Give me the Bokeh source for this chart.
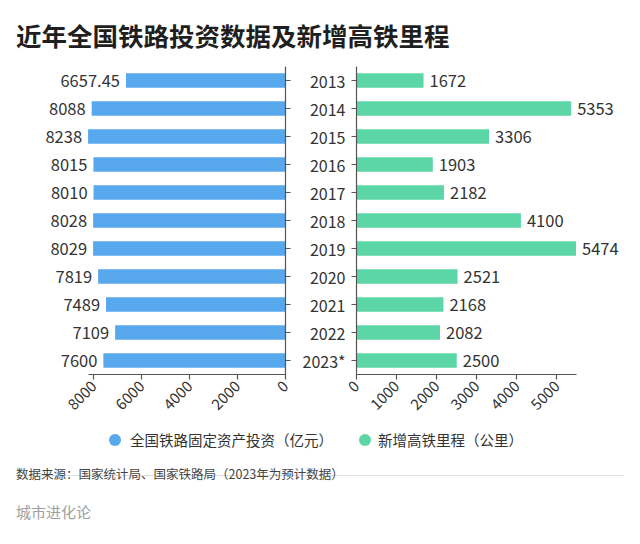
from math import pi
from bokeh.plotting import figure
from bokeh.layouts import column, row
from bokeh.models import (ColumnDataSource, Range1d, FactorRange, FixedTicker, Div,
                          CustomLabelingPolicy)
from bokeh.embed import file_html
from bokeh.resources import INLINE
from bokeh.core.properties import value

# ---------------- data ----------------
years = ["2013", "2014", "2015", "2016", "2017", "2018", "2019", "2020", "2021", "2022", "2023*"]
investment = [6657.45, 8088, 8238, 8015, 8010, 8028, 8029, 7819, 7489, 7109, 7600]   # 亿元
mileage = [1672, 5353, 3306, 1903, 2182, 4100, 5474, 2521, 2168, 2082, 2500]          # 公里
investment_ticks = [0, 2000, 4000, 6000, 8000]
mileage_ticks = [0, 1000, 2000, 3000, 4000, 5000]

title_text = "近年全国铁路投资数据及新增高铁里程"
legend_inv = "全国铁路固定资产投资（亿元）"
legend_mil = "新增高铁里程（公里）"
source_text = "数据来源：国家统计局、国家铁路局（2023年为预计数据）"
brand_text = "城市进化论"

# ---------------- style ----------------
FONT = "Noto Sans CJK SC"
BLUE = "#58A8EE"
GREEN = "#5DD6A7"
AXIS = "#555555"
TXT = "#333333"

src = ColumnDataSource(dict(
    year=years,
    inv=investment,
    inv_label=[f"{v:g}" for v in investment],
    mil=mileage,
    mil_label=[f"{v:g}" for v in mileage],
))

factors = years[::-1]


def style_common(p):
    p.grid.visible = False
    p.outline_line_color = None
    p.background_fill_color = "white"
    p.border_fill_color = "white"
    for ax in (p.xaxis[0], p.yaxis[0]):
        ax.axis_line_color = AXIS
        ax.axis_line_width = 1.2
        ax.major_tick_line_color = AXIS
        ax.major_tick_line_width = 1.2
        ax.major_tick_in = 0
        ax.major_tick_out = 5
        ax.minor_tick_line_color = None
        ax.major_label_text_font = FONT
        ax.major_label_text_color = TXT
    p.xaxis.major_label_orientation = pi / 4
    p.xaxis.major_label_text_font_size = "15px"
    p.xaxis.major_label_standoff = 4


# ---------------- left: investment ----------------
p1 = figure(width=293, height=372,
            x_range=Range1d(11893, 0),
            y_range=FactorRange(factors=factors),
            y_axis_location="right",
            output_backend="svg", toolbar_location=None,
            min_border_left=0, min_border_right=8,
            min_border_top=14, min_border_bottom=50)
p1.hbar(y="year", left=0, right="inv", height=0.51, source=src,
        fill_color=BLUE, line_color=None)
p1.text(x="inv", y="year", text="inv_label", source=src,
        text_align="right", text_baseline="middle", x_offset=-6,
        text_font=value(FONT), text_font_size="16.5px", text_color=TXT)
style_common(p1)
p1.xaxis.ticker = FixedTicker(ticks=investment_ticks)
p1.xaxis.bounds = (0, max(investment))
# the year labels are drawn once, by the right-hand chart's axis;
# this axis keeps only its line and tick marks
p1.yaxis.major_label_policy = CustomLabelingPolicy(code="""
    for (const i of indices) { indices.unset(i) }
    return indices
""")
p1.yaxis.major_label_text_font_size = "0px"
p1.yaxis.major_label_standoff = 0

# ---------------- right: mileage ----------------
p2 = figure(width=339, height=372,
            x_range=Range1d(0, 6883),
            y_range=FactorRange(factors=factors),
            y_axis_location="left",
            output_backend="svg", toolbar_location=None,
            min_border_left=63, min_border_right=0,
            min_border_top=14, min_border_bottom=50)
p2.hbar(y="year", left=0, right="mil", height=0.51, source=src,
        fill_color=GREEN, line_color=None)
p2.text(x="mil", y="year", text="mil_label", source=src,
        text_align="left", text_baseline="middle", x_offset=6,
        text_font=value(FONT), text_font_size="16.5px", text_color=TXT)
style_common(p2)
p2.xaxis.ticker = FixedTicker(ticks=mileage_ticks)
p2.xaxis.bounds = (0, max(mileage))
p2.yaxis.major_label_text_font_size = "16px"
p2.yaxis.major_label_standoff = 6

# ---------------- text blocks ----------------
title = Div(width=632, height=52, margin=(0, 0, 0, 0), text=(
    f'<div style="font-family:\'{FONT}\';font-size:25.5px;font-weight:bold;color:#1f1f1f;'
    f'line-height:30px;padding:20px 0 0 16px;white-space:nowrap;">{title_text}</div>'))

legend = Div(width=632, height=32, margin=(0, 0, 0, 0), text=(
    f'<div style="position:relative;width:632px;height:32px;font-family:\'{FONT}\';'
    f'font-size:14.5px;color:{TXT};line-height:32px;white-space:nowrap;">'
    f'<span style="position:absolute;left:109px;top:10px;width:12px;height:12px;border-radius:6px;background:{BLUE};"></span>'
    f'<span style="position:absolute;left:130px;top:0;">{legend_inv}</span>'
    f'<span style="position:absolute;left:359px;top:10px;width:12px;height:12px;border-radius:6px;background:{GREEN};"></span>'
    f'<span style="position:absolute;left:378px;top:0;">{legend_mil}</span>'
    f'</div>'))

source = Div(width=632, height=29, margin=(0, 0, 0, 0), text=(
    f'<div style="margin-left:16px;width:608px;height:20px;padding-top:8px;'
    f'border-bottom:1px solid #dddddd;font-family:\'{FONT}\';font-size:12.5px;color:#444444;'
    f'line-height:20px;white-space:nowrap;">{source_text}</div>'))

brand = Div(width=632, height=48, margin=(0, 0, 0, 0), text=(
    f'<div style="margin-left:16px;padding-top:17px;font-family:\'{FONT}\';font-size:15px;'
    f'color:#a0a0a0;line-height:20px;white-space:nowrap;">{brand_text}</div>'))

layout = column(title, row(p1, p2, spacing=0), legend, source, brand, spacing=0)

open("out.html", "w").write(file_html(layout, INLINE))
